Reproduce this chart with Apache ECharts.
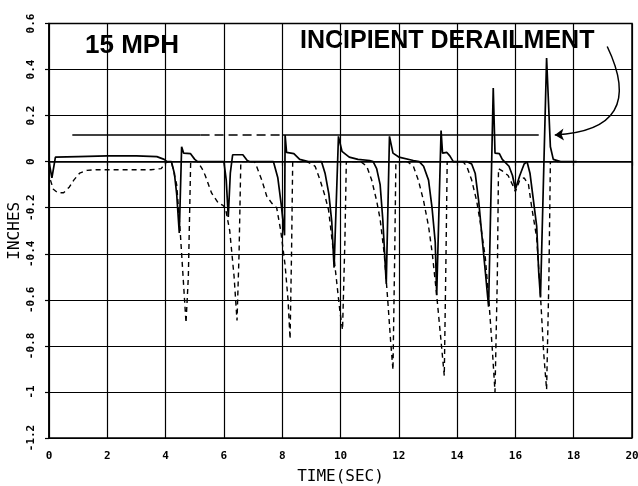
<!DOCTYPE html>
<html>
<head>
<meta charset="utf-8">
<script src="https://cdn.jsdelivr.net/npm/echarts@6/dist/echarts.min.js"></script>
<style>html,body{margin:0;padding:0;background:#fff}#c{width:638px;height:486px}</style>
</head>
<body>
<div id="c"></div>
<script>
// ---- data ----
const xTicks = [0, 2, 4, 6, 8, 10, 12, 14, 16, 18, 20];
const yTicks = [-1.2, -1, -0.8, -0.6, -0.4, -0.2, 0, 0.2, 0.4, 0.6];

const timeSolid = [0, 0.1, 0.22, 1.0, 2.0, 3.0, 3.7, 3.95, 4.05, 4.2, 4.3, 4.38, 4.47, 4.55, 4.62, 4.85, 5.0, 5.1,
  6.0, 6.08, 6.15, 6.22, 6.3, 6.65, 6.8, 6.9,
  7.7, 7.85, 7.97, 8.08, 8.1, 8.15, 8.4, 8.6, 8.9,
  9.35, 9.47, 9.6, 9.7, 9.78, 9.93, 10.05, 10.3, 10.6, 11.0, 11.12,
  11.24, 11.36, 11.45, 11.57, 11.68, 11.8, 12.0, 12.5, 12.7,
  12.85, 13.02, 13.14, 13.25, 13.3, 13.45, 13.5, 13.65, 13.75, 13.87,
  14.35, 14.5, 14.62, 14.74, 14.85, 14.97, 15.08, 15.24, 15.3, 15.45, 15.55, 15.78, 15.9, 16.0, 16.15, 16.3, 16.4,
  16.5, 16.6, 16.73, 16.8, 16.86, 17.07, 17.2, 17.3, 17.55, 18.1];
const inchesSolid = [0, -0.07, 0.02, 0.022, 0.025, 0.025, 0.022, 0.01, 0, 0, -0.05, -0.14, -0.31, 0.065, 0.037, 0.035, 0.01, 0,
  0, -0.08, -0.24, -0.05, 0.03, 0.03, 0.005, 0,
  0, -0.07, -0.19, -0.32, 0.116, 0.04, 0.035, 0.01, 0,
  0, -0.05, -0.14, -0.26, -0.46, 0.11, 0.045, 0.02, 0.01, 0.005, 0,
  -0.03, -0.1, -0.25, -0.53, 0.11, 0.037, 0.02, 0.005, 0,
  -0.02, -0.08, -0.2, -0.35, -0.58, 0.135, 0.037, 0.04, 0.025, 0,
  0, -0.01, -0.05, -0.17, -0.32, -0.48, -0.63, 0.32, 0.037, 0.035, 0.01, -0.02, -0.06, -0.12, -0.06, -0.01, 0,
  -0.05, -0.15, -0.28, -0.48, -0.59, 0.45, 0.065, 0.01, 0, 0];

const timeDashed = [0.05, 0.15, 0.3, 0.5, 0.7, 0.85, 1.05, 1.3, 1.6, 2.5, 3.5, 3.85, 4.0, 4.1,
  4.2, 4.38, 4.5, 4.6, 4.7, 4.78, 4.86,
  5.1, 5.25, 5.36, 5.58, 5.81, 5.97, 6.05, 6.2, 6.35, 6.45, 6.52, 6.58,
  7.05, 7.12, 7.3, 7.47, 7.64, 7.81, 7.95, 8.1, 8.2, 8.27, 8.32, 8.36,
  8.85, 9.13, 9.3, 9.47, 9.59, 9.72, 9.85, 9.98, 10.07, 10.15, 10.2,
  10.7, 10.9, 11.07, 11.24, 11.36, 11.5, 11.62, 11.72, 11.8, 11.86, 11.9,
  12.3, 12.5, 12.67, 12.85, 13.02, 13.15, 13.3, 13.45, 13.56, 13.62, 13.66,
  14.2, 14.33, 14.5, 14.67, 14.79, 14.97, 15.1, 15.2, 15.3, 15.38, 15.42, 15.55, 15.75, 15.9, 16.0, 16.15, 16.3,
  16.45, 16.55, 16.73, 16.86, 16.97, 17.07, 17.15, 17.2, 17.5];
const inchesDashed = [-0.08, -0.12, -0.135, -0.135, -0.11, -0.08, -0.05, -0.038, -0.035, -0.035, -0.035, -0.03, -0.005, 0,
  0, -0.1, -0.3, -0.5, -0.7, -0.5, 0,
  0, -0.03, -0.06, -0.137, -0.18, -0.19, -0.2, -0.3, -0.5, -0.69, -0.4, 0,
  0, -0.02, -0.08, -0.15, -0.18, -0.2, -0.3, -0.45, -0.6, -0.77, -0.4, 0,
  0, -0.02, -0.08, -0.15, -0.21, -0.35, -0.5, -0.65, -0.73, -0.35, 0,
  0, -0.02, -0.08, -0.17, -0.25, -0.4, -0.6, -0.78, -0.905, -0.4, 0,
  0, -0.02, -0.08, -0.17, -0.28, -0.4, -0.58, -0.78, -0.93, -0.4, 0,
  0, -0.02, -0.08, -0.17, -0.26, -0.42, -0.62, -0.8, -1.0, -0.5, -0.03, -0.04, -0.06, -0.1, -0.13, -0.08, -0.07,
  -0.1, -0.19, -0.33, -0.58, -0.83, -0.99, -0.5, 0, 0];

// threshold reference line (solid part, dashed part)
const refLevel = 0.116;
const refSolidA = [0.8, 5.2];
const refDashed = [5.2, 8.0];
const refSolidB = [8.0, 16.8];

// annotation arrow (from label to the final spike)
const arrowFrom = [19.15, 0.5];
const arrowTo = [17.35, 0.116];

const zip = (xs, ys) => xs.map((x, i) => [x, ys[i]]);
const seg = (r) => [[r[0], refLevel], [r[1], refLevel]];

const tickFont = {fontFamily: 'DejaVu Sans Mono', fontWeight: 'bold', fontSize: 11, color: '#000'};
const nameFont = {fontFamily: 'DejaVu Sans Mono', fontSize: 16, color: '#000'};

const chart = echarts.init(document.getElementById('c'), null, {renderer: 'canvas'});
chart.setOption({
  animation: false,
  backgroundColor: '#fff',
  grid: {left: 49, right: 6, top: 23.5, bottom: 48, containLabel: false, outerBoundsMode: 'none',
    show: true, borderColor: '#000', borderWidth: 1.5, backgroundColor: 'transparent'},
  xAxis: {
    type: 'value', min: xTicks[0], max: xTicks[xTicks.length - 1], interval: 2,
    name: 'TIME(SEC)', nameLocation: 'middle', nameGap: 31, nameMoveOverlap: false,
    nameTextStyle: nameFont,
    axisLine: {show: true, lineStyle: {color: '#000', width: 1.5}},
    axisTick: {show: true, length: 4, lineStyle: {color: '#000', width: 1.2}},
    axisLabel: Object.assign({margin: 13}, tickFont),
    splitLine: {show: true, lineStyle: {color: '#000', width: 1.2}}
  },
  yAxis: {
    type: 'value', min: yTicks[0], max: yTicks[yTicks.length - 1], interval: 0.2,
    name: 'INCHES', nameLocation: 'middle', nameGap: 26, nameMoveOverlap: false,
    nameTextStyle: nameFont,
    axisLine: {show: true, lineStyle: {color: '#000', width: 1.5}},
    axisTick: {show: true, length: 4, lineStyle: {color: '#000', width: 1.2}},
    axisLabel: Object.assign({margin: 12, rotate: 90}, tickFont),
    splitLine: {show: true, lineStyle: {color: '#000', width: 1.2}}
  },
  series: [
    {type: 'line', data: seg(refSolidA), symbol: 'none', lineStyle: {color: '#000', width: 1.6}},
    {type: 'line', data: seg(refDashed), symbol: 'none', lineStyle: {color: '#000', width: 1.6, type: [9, 5]}},
    {type: 'line', data: seg(refSolidB), symbol: 'none', lineStyle: {color: '#000', width: 1.6}},
    {type: 'line', data: zip(timeDashed, inchesDashed), symbol: 'none', lineStyle: {color: '#000', width: 1.4, type: [5, 4]}},
    {type: 'line', data: zip(timeSolid, inchesSolid), symbol: 'none', lineStyle: {color: '#000', width: 1.7}},
    {type: 'lines', coordinateSystem: 'cartesian2d', symbol: ['none', 'arrow'], symbolSize: 9,
      lineStyle: {color: '#000', width: 1.5, curveness: 0.75, opacity: 1},
      data: [{coords: [arrowFrom, arrowTo]}]}
  ],
  graphic: [
    {type: 'text', left: 85, top: 33, style: {text: '15 MPH', font: 'bold 26px "Liberation Sans", Arial, sans-serif', fill: '#000'}},
    {type: 'text', left: 300, top: 29, style: {text: 'INCIPIENT DERAILMENT', font: 'bold 25px "Liberation Sans", Arial, sans-serif', fill: '#000'}}
  ]
});
</script>
</body>
</html>
